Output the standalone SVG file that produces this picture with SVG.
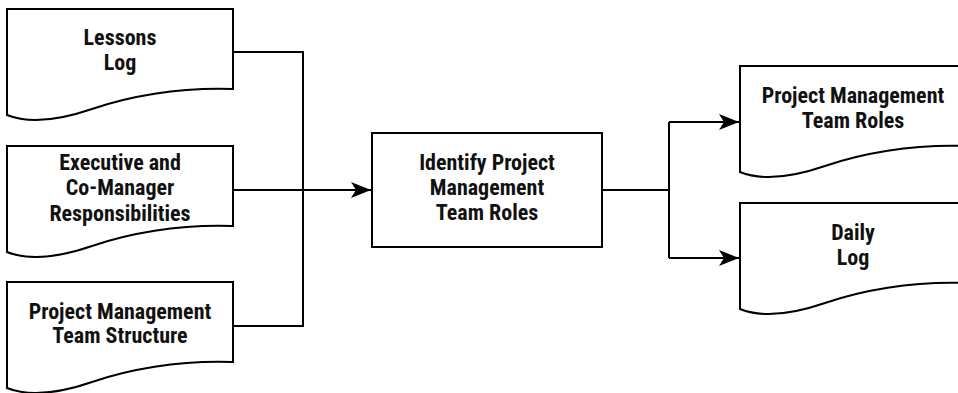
<svg xmlns="http://www.w3.org/2000/svg" xmlns:xlink="http://www.w3.org/1999/xlink" width="958" height="393" viewBox="0 0 958 393">
<style>
.shape{fill:#fff;stroke:#000;stroke-width:2;stroke-linejoin:miter}
.lbl{font-family:"Liberation Sans Narrow","Roboto Condensed","Liberation Sans",Arial,sans-serif;font-weight:bold;font-size:22px;fill:#111;text-anchor:middle}
.conn{fill:none;stroke:#000;stroke-width:2}
</style>
<defs>
<path id="doc" d="M0,0 H226 V80 C170,78 120,88 85,100 C50,112 20,114 0,106 Z"/>
<marker id="arr" markerUnits="userSpaceOnUse" markerWidth="22" markerHeight="18" refX="20" refY="8" orient="auto" viewBox="0 0 22 16">
<path d="M0,0 L20,8 L0,16 L5,8 Z" fill="#000"/>
</marker>
</defs>
<rect width="958" height="393" fill="#fff"/>
<g id="connectors">
<path class="conn" d="M233,52 H303 V326 H233"/>
<path class="conn" d="M233,190 H371" marker-end="url(#arr)"/>
<path class="conn" d="M602,190 H669"/>
<path class="conn" d="M669,122 V258"/>
<path class="conn" d="M669,122 H739" marker-end="url(#arr)"/>
<path class="conn" d="M669,258 H739" marker-end="url(#arr)"/>
</g>
<g id="lessons-log" transform="translate(7,9)">
<use xlink:href="#doc" class="shape"/>
<text class="lbl" x="113" y="36">Lessons</text>
<text class="lbl" x="113" y="61">Log</text>
</g>
<g id="exec-responsibilities" transform="translate(7,146)">
<use xlink:href="#doc" class="shape"/>
<text class="lbl" x="113" y="24">Executive and</text>
<text class="lbl" x="113" y="49">Co-Manager</text>
<text class="lbl" x="113" y="75">Responsibilities</text>
</g>
<g id="pm-team-structure" transform="translate(7,282)">
<use xlink:href="#doc" class="shape"/>
<text class="lbl" x="113" y="37">Project Management</text>
<text class="lbl" x="113" y="61">Team Structure</text>
</g>
<g id="identify-roles">
<rect class="shape" x="372" y="133" width="230" height="114"/>
<text class="lbl" x="487" y="170">Identify Project</text>
<text class="lbl" x="487" y="195">Management</text>
<text class="lbl" x="487" y="220">Team Roles</text>
</g>
<g id="pm-team-roles" transform="translate(740,66)">
<use xlink:href="#doc" class="shape"/>
<text class="lbl" x="113" y="37">Project Management</text>
<text class="lbl" x="113" y="62">Team Roles</text>
</g>
<g id="daily-log" transform="translate(740,203)">
<use xlink:href="#doc" class="shape"/>
<text class="lbl" x="113" y="37">Daily</text>
<text class="lbl" x="113" y="62">Log</text>
</g>
</svg>
